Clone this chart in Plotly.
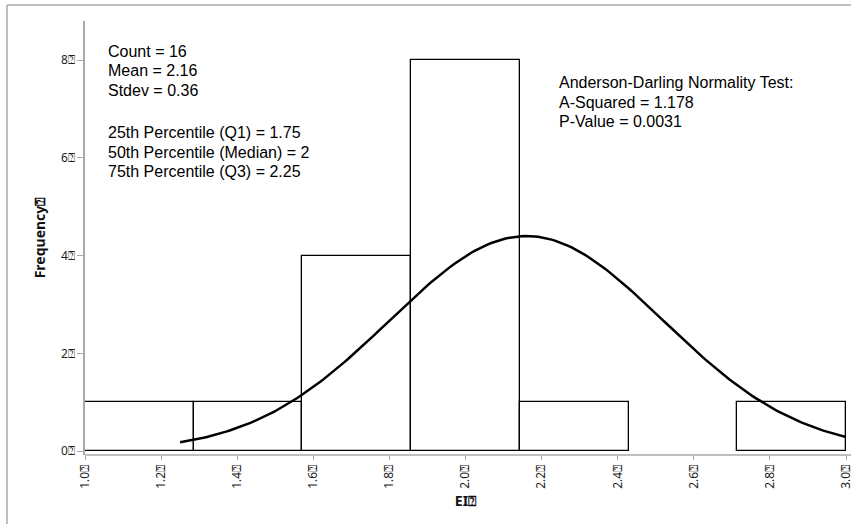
import plotly.graph_objects as go
import numpy as np

# ---- data ----
bin_start = 1.0
bin_end = 3.0
bin_counts = [1, 1, 4, 8, 1, 0, 1]
x_tick_values = [1.0, 1.2, 1.4, 1.6, 1.8, 2.0, 2.2, 2.4, 2.6, 2.8, 3.0]
x_tick_labels = ["1.0⍰", "1.2⍰", "1.4⍰", "1.6⍰", "1.8⍰", "2.0⍰", "2.2⍰", "2.4⍰", "2.6⍰", "2.8⍰", "3.0⍰"]
y_tick_values = [0, 2, 4, 6, 8]
y_tick_labels = ["0⍰", "2⍰", "4⍰", "6⍰", "8⍰"]
curve_mean = 2.16
curve_sd = 0.36
curve_peak = 4.4
curve_from = 1.25
curve_to = 3.0
stats_left = ["Count = 16", "Mean = 2.16", "Stdev = 0.36", "",
              "25th Percentile (Q1) = 1.75", "50th Percentile (Median) = 2",
              "75th Percentile (Q3) = 2.25"]
stats_right = ["Anderson-Darling Normality Test:", "A-Squared = 1.178", "P-Value = 0.0031"]

# ---- figure geometry (pixels) ----
W, H = 851, 524
PL, PR, PT, PB = 85, 846, 21, 455


def px_x(px):
    return (px - PL) / (PR - PL)


def px_y(py):
    return (PB - py) / (PB - PT)


nb = len(bin_counts)
bw = (bin_end - bin_start) / nb
centers = [bin_start + bw * (i + 0.5) for i in range(nb)]
heights = [c if c > 0 else None for c in bin_counts]

fig = go.Figure()
fig.add_trace(go.Bar(
    x=centers, y=heights, width=[bw] * nb,
    marker=dict(color="white", line=dict(color="black", width=1.3)),
    hoverinfo="skip", showlegend=False,
))

cx = np.linspace(curve_from, curve_to, 200)
cy = curve_peak * np.exp(-0.5 * ((cx - curve_mean) / curve_sd) ** 2)
fig.add_trace(go.Scatter(x=cx, y=cy, mode="lines",
                         line=dict(color="black", width=2.5),
                         hoverinfo="skip", showlegend=False, cliponaxis=False))

tick_font = dict(family="Noto Sans, sans-serif", size=12, color="#222")
title_font = dict(family="Noto Sans, sans-serif", size=14, color="#111")

fig.update_layout(
    width=W, height=H,
    margin=dict(l=PL, r=W - PR, t=PT, b=H - PB, autoexpand=False),
    paper_bgcolor="white", plot_bgcolor="white",
    bargap=0,
    xaxis=dict(range=[bin_start, bin_end], tickvals=x_tick_values, ticktext=x_tick_labels,
               tickangle=-90, ticks="outside", ticklen=4, tickcolor="#aaa",
               ticklabeloverflow="allow", automargin=False,
               showline=False, showgrid=False, zeroline=False,
               tickfont=tick_font,
               title=dict(text="<b>EI⍰</b>", font=title_font, standoff=8)),
    yaxis=dict(range=[-0.08, 8.8], tickvals=y_tick_values, ticktext=y_tick_labels,
               ticks="outside", ticklen=6, tickcolor="#aaa", automargin=False,
               showline=True, linecolor="#aaa", linewidth=1.5,
               showgrid=False, zeroline=False, tickfont=tick_font,
               title=dict(text="<b>Frequency⍰</b>", font=title_font, standoff=12)),
)

# x axis line extends to right edge; outer frame lines
fig.add_shape(type="line", xref="paper", yref="paper",
              x0=0, x1=px_x(W), y0=0, y1=0, line=dict(color="#aaa", width=1.5))
fig.add_shape(type="line", xref="paper", yref="paper",
              x0=px_x(7), x1=px_x(W), y0=px_y(5), y1=px_y(5), line=dict(color="#aaa", width=1.5))
fig.add_shape(type="line", xref="paper", yref="paper",
              x0=px_x(7), x1=px_x(7), y0=px_y(5), y1=px_y(H), line=dict(color="#aaa", width=1.5))

text_font = dict(family="Liberation Sans, Arial, sans-serif", size=16, color="black")
left_y = [51.5, 71, 90.5, 111, 132.5, 152, 171.5]
for t, yy in zip(stats_left, left_y):
    if t:
        fig.add_annotation(text=t, xref="paper", yref="paper", x=px_x(105.5), y=px_y(yy),
                           xanchor="left", yanchor="middle", showarrow=False, font=text_font)
right_y = [82.5, 102, 121.5]
for t, yy in zip(stats_right, right_y):
    fig.add_annotation(text=t, xref="paper", yref="paper", x=px_x(556.5), y=px_y(yy),
                       xanchor="left", yanchor="middle", showarrow=False, font=text_font)

fig.write_html("out.html", config={"displayModeBar": False},
               post_script="document.body.style.margin='0';")
